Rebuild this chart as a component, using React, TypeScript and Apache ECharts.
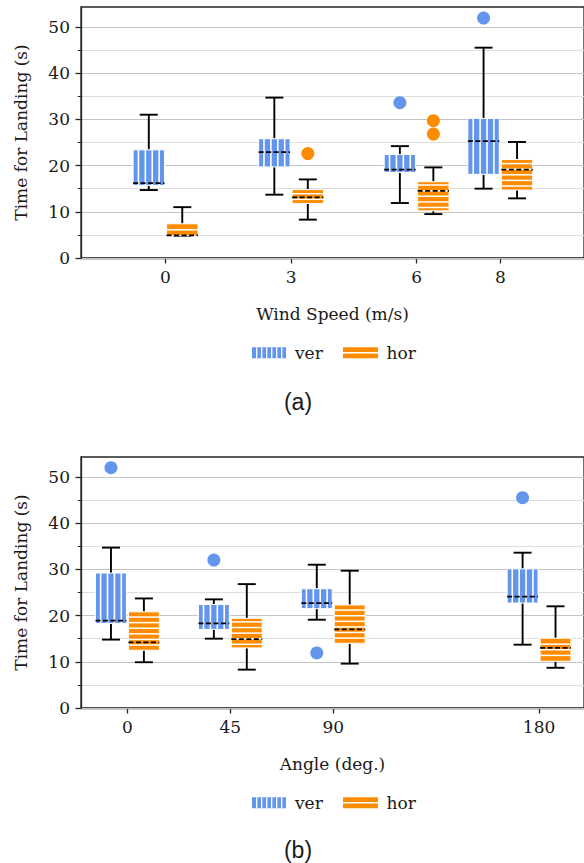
import React, { useEffect, useRef } from "react";
import * as echarts from "echarts";

// ---------- data ----------
// box stats: [low whisker, q1, median, q3, high whisker]
const windSpeeds = [0, 3, 6, 8];
const windVer = [
  [14.7, 15.7, 16.2, 23.4, 31.0],
  [13.7, 19.7, 22.9, 25.8, 34.7],
  [11.9, 18.5, 19.1, 22.4, 24.2],
  [15.0, 18.1, 25.3, 30.2, 45.5],
];
const windHor = [
  [4.8, 4.8, 4.9, 7.4, 11.0],
  [8.3, 11.8, 13.1, 14.8, 17.0],
  [9.5, 10.2, 14.5, 16.5, 19.6],
  [12.9, 14.7, 19.1, 21.3, 25.1],
];
const windVerOutliers = [
  [6, 33.6],
  [8, 51.9],
];
const windHorOutliers = [
  [3, 22.6],
  [6, 29.7],
  [6, 26.8],
];

const angles = [0, 45, 90, 180];
const angleVer = [
  [14.8, 18.3, 18.9, 29.2, 34.7],
  [15.0, 17.0, 18.3, 22.4, 23.5],
  [19.1, 21.5, 22.7, 25.8, 31.0],
  [13.7, 22.7, 24.1, 30.1, 33.6],
];
const angleHor = [
  [9.9, 12.5, 14.2, 20.8, 23.7],
  [8.3, 13.0, 14.9, 19.4, 26.8],
  [9.6, 14.0, 17.0, 22.3, 29.7],
  [8.7, 10.1, 13.0, 15.1, 22.0],
];
const angleVerOutliers = [
  [0, 52.0],
  [45, 32.0],
  [90, 11.9],
  [180, 45.5],
];
const angleHorOutliers: number[][] = [];

const yMajorTicks = [0, 10, 20, 30, 40, 50];
const yMinorTicks = [5, 15, 25, 35, 45];

// ---------- style ----------
const BLUE = "#6495ED";
const ORANGE = "#FF8C00";
const SERIF = "DejaVu Serif";
const TXT = "#1a1a1a";
const AX = "#262626";

function boxSeries(
  name: string,
  gi: number,
  cats: number[],
  stats: number[][],
  offset: number,
  width: number,
  color: string,
  hatch: "v" | "h"
) {
  return {
    type: "custom",
    name,
    xAxisIndex: gi,
    yAxisIndex: gi * 2,
    dimensions: ["x", "low", "q1", "med", "q3", "high"],
    encode: { x: 0, y: [1, 2, 3, 4, 5] },
    data: cats.map((c, i) => [c, ...stats[i]]),
    z: 3,
    renderItem: (params: any, api: any) => {
      const xv = api.value(0) + offset;
      const low = api.value(1);
      const q1 = api.value(2);
      const med = api.value(3);
      const q3 = api.value(4);
      const high = api.value(5);
      const cx = api.coord([xv, med])[0];
      const w = api.size([width, 0])[0];
      const left = cx - w / 2;
      const right = cx + w / 2;
      const yLow = api.coord([xv, low])[1];
      const yQ1 = api.coord([xv, q1])[1];
      const yMed = api.coord([xv, med])[1];
      const yQ3 = api.coord([xv, q3])[1];
      const yHigh = api.coord([xv, high])[1];
      const capHalf = 9;
      const black = { stroke: "#000", lineWidth: 1.9 };
      const children: any[] = [
        { type: "line", shape: { x1: cx, y1: yQ1, x2: cx, y2: yLow }, style: black },
        { type: "line", shape: { x1: cx, y1: yQ3, x2: cx, y2: yHigh }, style: black },
        { type: "line", shape: { x1: cx - capHalf, y1: yLow, x2: cx + capHalf, y2: yLow }, style: black },
        { type: "line", shape: { x1: cx - capHalf, y1: yHigh, x2: cx + capHalf, y2: yHigh }, style: black },
        {
          type: "rect",
          shape: { x: left, y: yQ3, width: w, height: yQ1 - yQ3 },
          style: { fill: color, stroke: "#fff", lineWidth: 1 },
        },
      ];
      const h = yQ1 - yQ3;
      if (hatch === "v") {
        const P = 6.9;
        const n = Math.floor((w - 1) / P);
        const start = left + (w - (n - 1) * P) / 2;
        for (let k = 0; k < n; k++) {
          const x = start + k * P;
          children.push({
            type: "line",
            shape: { x1: x, y1: yQ3, x2: x, y2: yQ1 },
            style: { stroke: "#fff", lineWidth: 1.6 },
          });
        }
      } else {
        const P = 5.6;
        const n = Math.floor((h - 1) / P);
        const start = yQ3 + (h - (n - 1) * P) / 2;
        for (let k = 0; k < n; k++) {
          const y = start + k * P;
          children.push({
            type: "line",
            shape: { x1: left, y1: y, x2: right, y2: y },
            style: { stroke: "#fff", lineWidth: 1.5 },
          });
        }
      }
      children.push({
        type: "line",
        shape: { x1: left, y1: yMed, x2: right, y2: yMed },
        style: { stroke: "#000", lineWidth: 1.8, lineDash: [5, 2.5] },
      });
      return { type: "group", children };
    },
  };
}

function outlierSeries(gi: number, pts: number[][], offset: number, color: string) {
  return {
    type: "scatter",
    xAxisIndex: gi,
    yAxisIndex: gi * 2,
    symbol: "circle",
    symbolSize: 13,
    z: 4,
    itemStyle: { color, opacity: 1 },
    data: pts.map(([c, v]) => [c + offset, v]),
  };
}

function xAxisOpt(gi: number, name: string, min: number, max: number, ticks: number[]) {
  return {
    type: "value",
    gridIndex: gi,
    min,
    max,
    name,
    nameLocation: "middle",
    nameGap: 47,
    nameTextStyle: { fontFamily: SERIF, fontSize: 17, color: TXT },
    axisLine: { show: true, onZero: false, lineStyle: { color: AX, width: 1.3 } },
    axisTick: { show: true, length: 5.5, customValues: ticks, lineStyle: { color: AX, width: 1.3 } },
    axisLabel: { customValues: ticks, fontFamily: SERIF, fontSize: 17, color: TXT, margin: 10 },
    splitLine: { show: false },
  };
}

function yAxesOpt(gi: number) {
  return [
    {
      type: "value",
      gridIndex: gi,
      position: "left",
      min: 0,
      max: 54.3,
      name: "Time for Landing (s)",
      nameLocation: "middle",
      nameGap: 52,
      nameTextStyle: { fontFamily: SERIF, fontSize: 17, color: TXT },
      axisLine: { show: true, onZero: false, lineStyle: { color: AX, width: 1.3 } },
      axisTick: { show: true, length: 5.5, customValues: yMajorTicks, lineStyle: { color: AX, width: 1.3 } },
      axisLabel: { customValues: yMajorTicks, fontFamily: SERIF, fontSize: 17, color: TXT, margin: 11 },
      splitLine: { show: true, lineStyle: { color: "#c4c4c4", width: 1 } },
      z: 2,
    },
    {
      type: "value",
      gridIndex: gi,
      position: "left",
      min: 0,
      max: 54.3,
      interval: 5,
      axisLine: { show: false, onZero: false },
      axisTick: { show: true, length: 3.3, customValues: yMinorTicks, lineStyle: { color: AX, width: 1 } },
      axisLabel: { show: false },
      splitLine: { show: true, lineStyle: { color: "#dedede", width: 1 } },
      z: 1,
    },
  ];
}

function legendGraphics(ly: number, caption: string, capY: number) {
  const els: any[] = [];
  els.push({ type: "rect", shape: { x: 252, y: ly - 5.5, width: 34, height: 11 }, style: { fill: BLUE } });
  for (let k = 0; k < 6; k++) {
    const x = 256.7 + k * 5;
    els.push({
      type: "line",
      shape: { x1: x, y1: ly - 5.5, x2: x, y2: ly + 5.5 },
      style: { stroke: "#fff", lineWidth: 1.3 },
    });
  }
  els.push({
    type: "text",
    x: 295,
    y: ly,
    style: { text: "ver", fontFamily: SERIF, fontSize: 17, fill: TXT, verticalAlign: "middle", align: "left" },
  });
  els.push({ type: "rect", shape: { x: 343, y: ly - 5.5, width: 35, height: 11 }, style: { fill: ORANGE } });
  els.push({
    type: "line",
    shape: { x1: 343, y1: ly, x2: 378, y2: ly },
    style: { stroke: "#fff", lineWidth: 1.5 },
  });
  els.push({
    type: "text",
    x: 386.5,
    y: ly,
    style: { text: "hor", fontFamily: SERIF, fontSize: 17, fill: TXT, verticalAlign: "middle", align: "left" },
  });
  els.push({
    type: "text",
    x: 298,
    y: capY,
    style: {
      text: caption,
      fontFamily: "Liberation Sans",
      fontSize: 23,
      fill: TXT,
      verticalAlign: "middle",
      align: "center",
    },
  });
  return els;
}

export default function App() {
  const ref = useRef<HTMLDivElement>(null);
  useEffect(() => {
    if (!ref.current) return;
    const chart = echarts.init(ref.current, undefined, { renderer: "svg" });
    const option: any = {
      animation: false,
      backgroundColor: "#fff",
      grid: [
        { left: 81, top: 7, width: 505, height: 251, show: true, borderColor: AX, borderWidth: 1.3, backgroundColor: "transparent" },
        { left: 81, top: 457, width: 505, height: 251, show: true, borderColor: AX, borderWidth: 1.3, backgroundColor: "transparent" },
      ],
      xAxis: [
        xAxisOpt(0, "Wind Speed (m/s)", -2.02, 10, windSpeeds),
        xAxisOpt(1, "Angle (deg.)", -20.3, 199.65, angles),
      ],
      yAxis: [...yAxesOpt(0), ...yAxesOpt(1)],
      series: [
        boxSeries("ver", 0, windSpeeds, windVer, -0.4, 0.75, BLUE, "v"),
        boxSeries("hor", 0, windSpeeds, windHor, 0.4, 0.75, ORANGE, "h"),
        outlierSeries(0, windVerOutliers, -0.4, BLUE),
        outlierSeries(0, windHorOutliers, 0.4, ORANGE),
        boxSeries("ver", 1, angles, angleVer, -7.2, 13.5, BLUE, "v"),
        boxSeries("hor", 1, angles, angleHor, 7.2, 13.5, ORANGE, "h"),
        outlierSeries(1, angleVerOutliers, -7.2, BLUE),
        outlierSeries(1, angleHorOutliers, 7.2, ORANGE),
      ],
      graphic: [...legendGraphics(352.8, "(a)", 401.5), ...legendGraphics(802.8, "(b)", 850)],
    };
    chart.setOption(option);
    return () => chart.dispose();
  }, []);
  return (
    <div
      ref={ref}
      style={{ position: "fixed", left: 0, top: 0, width: 584, height: 863, background: "#fff" }}
    />
  );
}
